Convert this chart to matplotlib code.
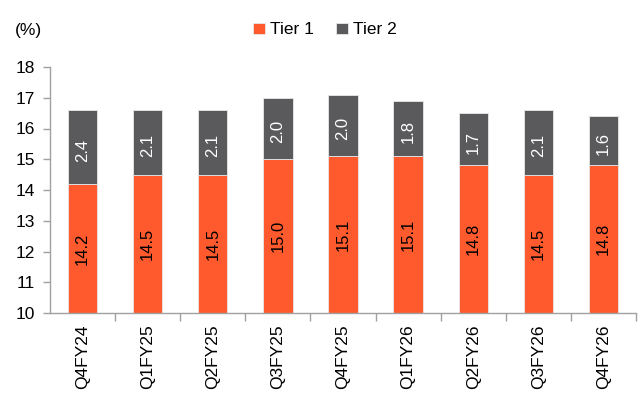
import matplotlib
matplotlib.use("Agg")
import matplotlib.pyplot as plt
from matplotlib.ticker import FixedLocator
import numpy as np

plt.rcParams['font.family'] = ['Liberation Sans', 'DejaVu Sans']

categories = ["Q4FY24", "Q1FY25", "Q2FY25", "Q3FY25", "Q4FY25", "Q1FY26", "Q2FY26", "Q3FY26", "Q4FY26"]
tier1 = [14.2, 14.5, 14.5, 15.0, 15.1, 15.1, 14.8, 14.5, 14.8]
tier2 = [2.4, 2.1, 2.1, 2.0, 2.0, 1.8, 1.7, 2.1, 1.6]

c1 = "#FF5A2D"
c2 = "#5A5A5C"
axc = "#A0A0A0"
base = 10

fig = plt.figure(figsize=(6.43, 3.94), dpi=100)
ax = fig.add_axes([50/643, 1-313/394, 586/643, 246/394])

x = np.arange(len(categories))
t1 = np.array(tier1)
t2 = np.array(tier2)
w = 0.45
b1 = ax.bar(x, t1 - base, bottom=base, width=w, color=c1, edgecolor="#E8E8E8", linewidth=0.6, label="Tier 1")
b2 = ax.bar(x, t2, bottom=t1, width=w, color=c2, edgecolor="#E8E8E8", linewidth=0.6, label="Tier 2")

for i in range(len(x)):
    ax.text(x[i], (base + t1[i]) / 2, f"{t1[i]:.1f}", rotation=90, ha="center", va="center",
            fontsize=12, color="black")
    ax.text(x[i], t1[i] + t2[i] / 2 - 0.1, f"{t2[i]:.1f}", rotation=90, ha="center", va="center",
            fontsize=12, color="white")

ax.set_xlim(-0.5, len(x) - 0.5)
ax.set_ylim(10, 18)
ax.set_yticks(range(10, 19))
ax.tick_params(axis="y", labelsize=12.5, length=5, color=axc, width=1, pad=6)
ax.set_xticks(x)
ax.set_xticklabels(categories, rotation=90, fontsize=12.5)
ax.tick_params(axis="x", which="major", length=0, pad=8)
ax.xaxis.set_minor_locator(FixedLocator(np.arange(0.5, len(x), 1.0)))
ax.tick_params(axis="x", which="minor", length=6, color=axc, width=1)
for s in ["top", "right"]:
    ax.spines[s].set_visible(False)
for s in ["left", "bottom"]:
    ax.spines[s].set_color(axc)
    ax.spines[s].set_linewidth(1)

fig.text(15/643, 1-30/394, "(%)", fontsize=12.5, ha="left", va="center")
fig.legend(handles=[b1, b2], loc="center", bbox_to_anchor=(325/643, 1-30/394), ncol=2, frameon=False,
           fontsize=12.5, handlelength=0.65, handleheight=0.65, handletextpad=0.3, columnspacing=1.3,
           borderpad=0.2)

fig.savefig("out.png", dpi=100)
